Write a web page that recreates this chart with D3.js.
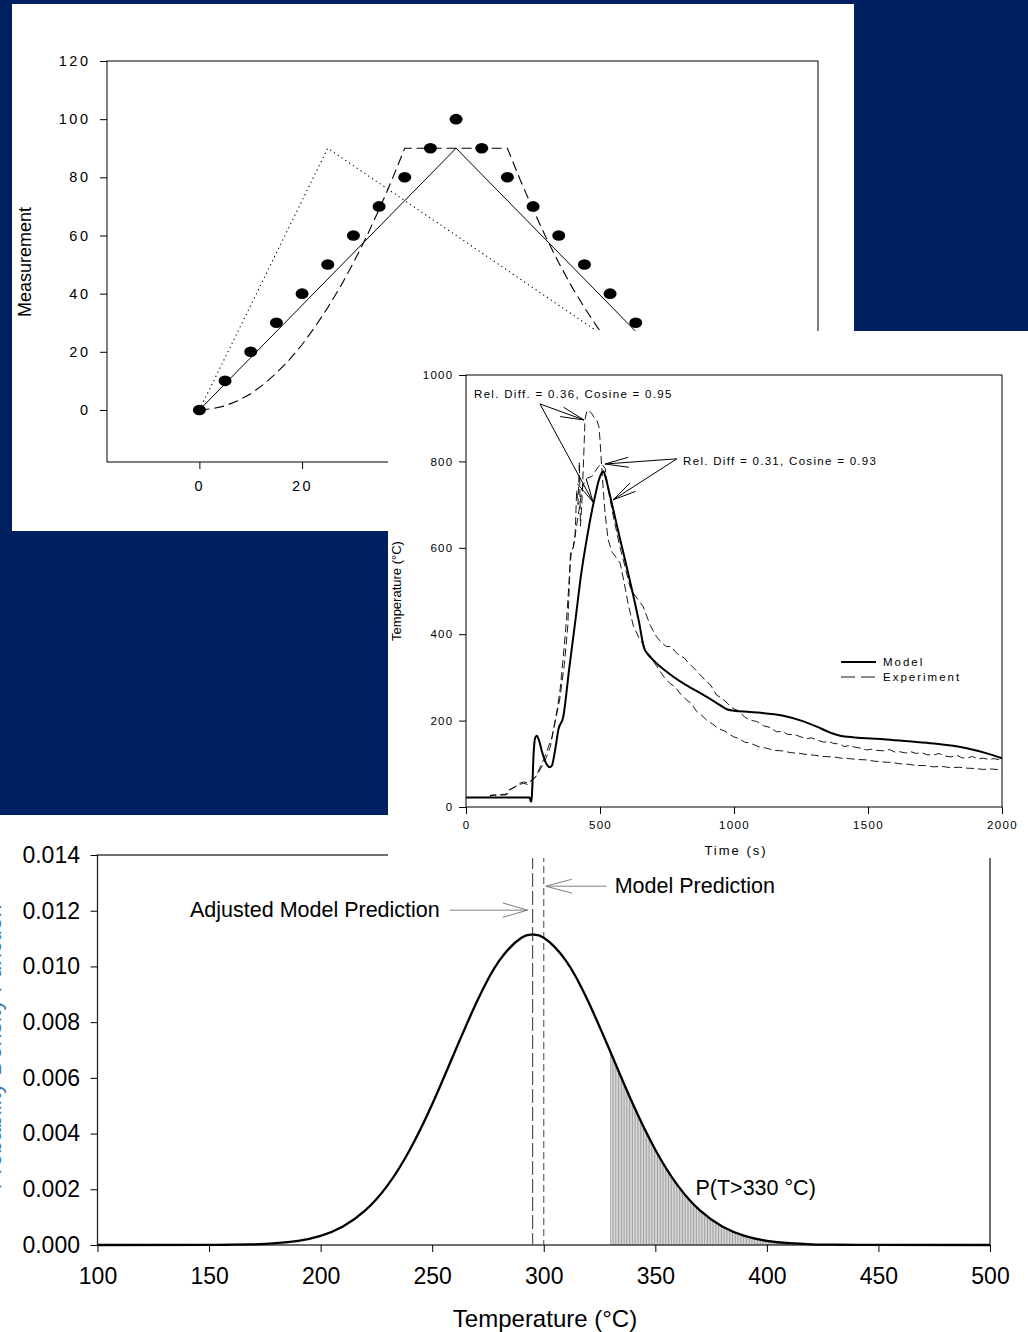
<!DOCTYPE html>
<html>
<head>
<meta charset="utf-8">
<script src="https://cdn.jsdelivr.net/npm/d3@7"></script>
<style>
  html, body { margin: 0; padding: 0; background: #002060; }
  svg { display: block; }
  text { font-family: "Liberation Sans", Arial, sans-serif; fill: #000; }
</style>
</head>
<body>
<svg id="fig" width="1028" height="1332"></svg>
<script>
// ---- panel 1: measurement vs fits ----
const measX = [0, 5, 10, 15, 20, 25, 30, 35, 40, 45, 50, 55, 60, 65, 70, 75, 80, 85];
const measY = [0, 10, 20, 30, 40, 50, 60, 70, 80, 90, 100, 90, 80, 70, 60, 50, 40, 30];
const fitSolid = [[0, 0], [50, 90], [100, 0]];
const fitDotted = [[0, 0], [25, 90], [100, 0]];
const fitDashed = [
  [0, 0], [2.5, 0.4], [5, 1.4], [7.5, 3.2], [10, 5.6], [12.5, 8.8], [15, 12.7], [17.5, 17.2],
  [20, 22.5], [22.5, 28.5], [25, 35.2], [27.5, 42.5], [30, 50.6], [32.5, 59.4], [35, 68.9],
  [37.5, 79.1], [40, 90], [60, 90], [62.5, 79.1], [65, 68.9], [67.5, 59.4], [70, 50.6],
  [72.5, 42.5], [75, 35.2], [77.5, 28.5], [80, 22.5], [82.5, 17.2], [85, 12.7]
];
const ticks1Y = [0, 20, 40, 60, 80, 100, 120];
const ticks1X = [0, 20, 40, 60, 80, 100, 120];

// ---- panel 2: temperature history ----
const modelPts = [
  [0, 22], [100, 22], [200, 22], [238, 22], [241, 14], [244, 12], [247, 40], [252, 120],
  [258, 160], [264, 165], [272, 155], [285, 125], [300, 100], [312, 92], [320, 95],
  [332, 130], [345, 180], [363, 209], [385, 320], [407, 426], [430, 540], [450, 618],
  [468, 680], [481, 718], [495, 755], [505, 772], [512, 777], [520, 765], [532, 735],
  [544, 703], [560, 660], [575, 620], [600, 555], [624, 490], [645, 430], [665, 367],
  [687, 348], [749, 313], [811, 286], [873, 264], [930, 243], [979, 225], [1000, 223],
  [1060, 220], [1184, 211], [1250, 200], [1309, 186], [1360, 172], [1396, 165],
  [1450, 161], [1557, 157], [1650, 152], [1744, 147], [1868, 136], [1950, 123], [2000, 113]
];
// experiment with the high (~920) peak
const expHigh = [
  [0, 22], [90, 22], [92, 27], [150, 28], [155, 36], [170, 42], [185, 48], [200, 55],
  [215, 58], [230, 56], [245, 60], [260, 70], [280, 90], [300, 115], [315, 140], [326, 178],
  [340, 225], [351, 271], [363, 348], [376, 440], [388, 556], [394, 595], [400, 600],
  [407, 626], [413, 734], [418, 700], [423, 799], [427, 650], [432, 700], [438, 790],
  [444, 896], [450, 915], [457, 919], [470, 910], [480, 900], [488, 896], [496, 880],
  [500, 850], [506, 790], [512, 736], [519, 680], [530, 620], [545, 590], [560, 578],
  [575, 565], [590, 520], [605, 470], [624, 420], [645, 392], [662, 375], [680, 350],
  [699, 338], [720, 318], [740, 300], [761, 286], [780, 278], [800, 262], [823, 248],
  [840, 240], [860, 222], [880, 212], [898, 201], [920, 192], [940, 182], [965, 176],
  [997, 163], [1020, 158], [1040, 150], [1060, 148], [1090, 140], [1122, 136], [1150, 131],
  [1180, 130], [1210, 126], [1246, 124], [1275, 121], [1300, 120], [1330, 117], [1371, 116],
  [1400, 113], [1430, 112], [1460, 110], [1495, 109], [1525, 106], [1560, 104], [1590, 103],
  [1619, 100], [1650, 99], [1680, 96], [1710, 96], [1744, 93], [1775, 94], [1810, 91],
  [1840, 92], [1868, 90], [1900, 89], [1930, 87], [1960, 88], [1993, 86], [2000, 86]
];
// experiment with the lower (~790) peak
const expLow = [
  [0, 22], [90, 22], [92, 27], [155, 30], [160, 40], [180, 45], [199, 52], [215, 55],
  [230, 52], [245, 63], [260, 70], [290, 110], [320, 160], [329, 186], [350, 250],
  [367, 330], [380, 420], [390, 591], [400, 600], [410, 640], [425, 700], [432, 734],
  [444, 756], [455, 762], [469, 765], [480, 775], [494, 788], [506, 794], [519, 784],
  [531, 734], [550, 672], [575, 600], [587, 572], [612, 510], [624, 495], [661, 464],
  [687, 421], [711, 394], [730, 380], [749, 371], [765, 372], [786, 356], [800, 350],
  [815, 345], [830, 333], [850, 322], [873, 306], [900, 290], [915, 280], [935, 259],
  [955, 252], [975, 240], [997, 228], [1020, 222], [1040, 208], [1060, 201], [1085, 198],
  [1110, 188], [1135, 184], [1159, 174], [1180, 175], [1200, 168], [1225, 168], [1246, 163],
  [1270, 158], [1290, 160], [1310, 155], [1335, 150], [1355, 152], [1371, 147], [1395, 146],
  [1410, 140], [1430, 142], [1455, 138], [1475, 136], [1495, 132], [1515, 134], [1535, 131],
  [1560, 130], [1580, 133], [1600, 127], [1619, 128], [1640, 125], [1660, 128], [1680, 124],
  [1700, 126], [1720, 121], [1744, 120], [1765, 124], [1785, 118], [1810, 116], [1830, 120],
  [1850, 114], [1868, 113], [1890, 117], [1910, 111], [1930, 113], [1950, 110], [1970, 112],
  [1993, 109], [2000, 107]
];
const ticks2Y = [0, 200, 400, 600, 800, 1000];
const ticks2X = [0, 500, 1000, 1500, 2000];
const notes2 = [
  { label: "Rel. Diff. = 0.36, Cosine = 0.95", at: [30, 947], from: [276, 933], tips: [[440, 896], [474, 706]] },
  { label: "Rel. Diff = 0.31, Cosine = 0.93", at: [810, 792], from: [787, 806], tips: [[519, 794], [549, 711]] }
];

// ---- panel 3: probability density ----
const pdfT = [100, 150, 160, 170, 180, 190, 200, 210, 220, 230, 240, 250, 260, 270, 280, 290, 295,
  300, 310, 320, 330, 340, 350, 360, 370, 380, 390, 400, 410, 420, 430, 440, 450, 500];
const pdfP = [0, 0.000003, 0.00001, 0.000025, 0.000064, 0.000151, 0.00033, 0.000665, 0.00124,
  0.00214, 0.00342, 0.00505, 0.00691, 0.00873, 0.0102, 0.01103, 0.01114, 0.01103, 0.0102,
  0.00873, 0.00691, 0.00505, 0.00342, 0.00214, 0.00124, 0.000665, 0.00033, 0.000151,
  0.000064, 0.000025, 0.00001, 0.000003, 0.000001, 0];
const adjustedPred = 295;
const modelPred = 300;
const threshold = 330;
const ticks3Y = [0, 0.002, 0.004, 0.006, 0.008, 0.010, 0.012, 0.014];
const ticks3X = [100, 150, 200, 250, 300, 350, 400, 450, 500];

const svg = d3.select("#fig");
svg.append("rect").attr("width", 1028).attr("height", 1332).attr("fill", "#002060");

// open arrow: line from (x0,y0) to tip (x1,y1) with a chevron head
function arrow(g, x0, y0, x1, y1, len, ang, color) {
  const a = Math.atan2(y0 - y1, x0 - x1);
  const s = g.append("g").attr("stroke", color).attr("stroke-width", 1).attr("fill", "none");
  s.append("line").attr("x1", x0).attr("y1", y0).attr("x2", x1).attr("y2", y1);
  [ang, -ang].forEach((d) => {
    s.append("line").attr("x1", x1).attr("y1", y1)
      .attr("x2", x1 + len * Math.cos(a + d)).attr("y2", y1 + len * Math.sin(a + d));
  });
}

function styleAxis(g, size, ls) {
  g.select(".domain").remove();
  g.selectAll(".tick line").attr("stroke", "#000");
  g.selectAll(".tick text").attr("font-size", size).attr("letter-spacing", ls)
    .attr("font-family", '"Liberation Sans", Arial, sans-serif').attr("fill", "#000");
}

// ================= panel 1 =================
const p1 = svg.append("g");
p1.append("rect").attr("x", 12).attr("y", 4).attr("width", 842).attr("height", 527).attr("fill", "#fff");

const x1 = d3.scaleLinear().domain([-18, 120.5]).range([107, 818]);
const y1 = d3.scaleLinear().domain([-17.9, 120]).range([462, 61]);

p1.append("rect").attr("x", 107).attr("y", 61).attr("width", 711).attr("height", 401)
  .attr("fill", "none").attr("stroke", "#000").attr("stroke-width", 1);

p1.append("g").attr("transform", "translate(107,0)")
  .call(d3.axisLeft(y1).tickValues(ticks1Y).tickSize(7).tickPadding(9.5))
  .call((g) => styleAxis(g, 14.5, 2.5));
p1.append("g").attr("transform", "translate(0,462)")
  .call(d3.axisBottom(x1).tickValues(ticks1X).tickSize(7).tickPadding(11.5))
  .call((g) => styleAxis(g, 14.5, 2.5));

p1.append("text").attr("transform", "translate(31,262) rotate(-90)")
  .attr("text-anchor", "middle").attr("font-size", 18).text("Measurement");

const line1 = d3.line().x((d) => x1(d[0])).y((d) => y1(d[1]));
p1.append("path").datum(fitDotted).attr("d", line1).attr("fill", "none")
  .attr("stroke", "#000").attr("stroke-width", 1.1).attr("stroke-dasharray", "1.2,3.4");
p1.append("path").datum(fitSolid).attr("d", line1).attr("fill", "none")
  .attr("stroke", "#000").attr("stroke-width", 1);
p1.append("path").datum(fitDashed).attr("d", line1).attr("fill", "none")
  .attr("stroke", "#000").attr("stroke-width", 1.1).attr("stroke-dasharray", "10,5");

p1.selectAll("ellipse.meas").data(measX).join("ellipse")
  .attr("class", "meas")
  .attr("cx", (d) => x1(d)).attr("cy", (d, i) => y1(measY[i]))
  .attr("rx", 6.5).attr("ry", 5.3).attr("fill", "#000");

// ================= panel 3 =================
const p3 = svg.append("g");
p3.append("rect").attr("x", 0).attr("y", 815).attr("width", 1028).attr("height", 517).attr("fill", "#fff");

const x3 = d3.scaleLinear().domain([100, 500]).range([97.5, 990]);
const y3 = d3.scaleLinear().domain([0, 0.014]).range([1245, 855]);
const pdfData = pdfT.map((t, i) => [t, pdfP[i]]);

// y title is mostly cut off at the left edge, as in the slide
p3.append("text").attr("transform", "translate(1,1047) rotate(-90)")
  .attr("text-anchor", "middle").attr("font-size", 23).style("fill", "#3f78bf")
  .text("Probability Density Function");

// hatched tail P(T > threshold)
const area3 = d3.area().curve(d3.curveNatural)
  .x((d) => x3(d[0])).y0(y3(0)).y1((d) => y3(d[1]));
p3.append("clipPath").attr("id", "tail").append("path").datum(pdfData).attr("d", area3);
p3.append("g").attr("clip-path", "url(#tail)")
  .selectAll("line").data(d3.range(threshold, 430, 0.7)).join("line")
  .attr("x1", (d) => x3(d)).attr("x2", (d) => x3(d))
  .attr("y1", y3(0.014)).attr("y2", y3(0))
  .attr("stroke", "#777").attr("stroke-width", 0.7);

p3.append("rect").attr("x", 97.5).attr("y", 855).attr("width", 892.5).attr("height", 390)
  .attr("fill", "none").attr("stroke", "#222").attr("stroke-width", 1.3);

p3.append("g").attr("transform", "translate(97.5,0)")
  .call(d3.axisLeft(y3).tickValues(ticks3Y).tickFormat(d3.format(".3f")).tickSize(7).tickPadding(10.5))
  .call((g) => styleAxis(g, 23, 0));
p3.append("g").attr("transform", "translate(0,1245)")
  .call(d3.axisBottom(x3).tickValues(ticks3X).tickSize(7).tickPadding(16))
  .call((g) => styleAxis(g, 23, 0));

p3.append("text").attr("x", 545).attr("y", 1327).attr("text-anchor", "middle")
  .attr("font-size", 24).text("Temperature (°C)");

// prediction markers
p3.append("line").attr("x1", x3(adjustedPred)).attr("x2", x3(adjustedPred))
  .attr("y1", y3(0.014)).attr("y2", y3(0))
  .attr("stroke", "#555").attr("stroke-width", 1.2).attr("stroke-dasharray", "14,4");
p3.append("line").attr("x1", x3(modelPred)).attr("x2", x3(modelPred))
  .attr("y1", y3(0.014)).attr("y2", y3(0))
  .attr("stroke", "#555").attr("stroke-width", 1.1).attr("stroke-dasharray", "7,4");

p3.append("path").datum(pdfData)
  .attr("d", d3.line().curve(d3.curveNatural).x((d) => x3(d[0])).y((d) => y3(d[1])))
  .attr("fill", "none").attr("stroke", "#000").attr("stroke-width", 2.3);

p3.append("text").attr("x", x3(253.4)).attr("y", y3(0.011775)).attr("text-anchor", "end")
  .attr("font-size", 21.5).text("Adjusted Model Prediction");
arrow(p3, x3(257.9), y3(0.01202), x3(292.8), y3(0.01202), 26, 0.28, "#808080");

p3.append("text").attr("x", x3(331.8)).attr("y", y3(0.012636))
  .attr("font-size", 21.5).text("Model Prediction");
arrow(p3, x3(328.2), y3(0.01288), x3(300.9), y3(0.01288), 27, 0.26, "#808080");

p3.append("text").attr("x", x3(368)).attr("y", y3(0.001795))
  .attr("font-size", 21.5).text("P(T>330 °C)");

// ================= panel 2 =================
const p2 = svg.append("g");
p2.append("rect").attr("x", 388).attr("y", 331).attr("width", 640).attr("height", 527).attr("fill", "#fff");

const x2 = d3.scaleLinear().domain([0, 2000]).range([466, 1002]);
const y2 = d3.scaleLinear().domain([0, 1000]).range([807, 375]);

p2.append("rect").attr("x", 466).attr("y", 375).attr("width", 536).attr("height", 432)
  .attr("fill", "none").attr("stroke", "#000").attr("stroke-width", 1);

p2.append("g").attr("transform", "translate(466,0)")
  .call(d3.axisLeft(y2).tickValues(ticks2Y).tickFormat(d3.format("d")).tickSize(7).tickPadding(5.5))
  .call((g) => styleAxis(g, 11.5, 1.3));
p2.append("g").attr("transform", "translate(0,807)")
  .call(d3.axisBottom(x2).tickValues(ticks2X).tickFormat(d3.format("d")).tickSize(7).tickPadding(6.8))
  .call((g) => styleAxis(g, 11.5, 1.3));

p2.append("text").attr("transform", "translate(401,591) rotate(-90)")
  .attr("text-anchor", "middle").attr("font-size", 13).text("Temperature (°C)");
p2.append("text").attr("x", 736).attr("y", 855).attr("text-anchor", "middle")
  .attr("font-size", 13).attr("letter-spacing", 2).text("Time (s)");

const line2 = d3.line().x((d) => x2(d[0])).y((d) => y2(d[1]));
[expHigh, expLow].forEach((s) => {
  p2.append("path").datum(s).attr("d", line2).attr("fill", "none")
    .attr("stroke", "#000").attr("stroke-width", 0.9).attr("stroke-dasharray", "8,4");
});
p2.append("path").datum(modelPts).attr("d", line2.curve(d3.curveMonotoneX)).attr("fill", "none")
  .attr("stroke", "#000").attr("stroke-width", 2);

notes2.forEach((n) => {
  p2.append("text").attr("x", x2(n.at[0])).attr("y", y2(n.at[1]))
    .attr("font-size", 11.5).attr("letter-spacing", 1.3).text(n.label);
  n.tips.forEach((t) => arrow(p2, x2(n.from[0]), y2(n.from[1]), x2(t[0]), y2(t[1]), 24, 0.21, "#000"));
});

// legend
const leg = p2.append("g").attr("transform", "translate(841,662)");
leg.append("line").attr("x1", 0).attr("x2", 35).attr("y1", 0).attr("y2", 0)
  .attr("stroke", "#000").attr("stroke-width", 2);
leg.append("line").attr("x1", 0).attr("x2", 35).attr("y1", 15).attr("y2", 15)
  .attr("stroke", "#000").attr("stroke-width", 0.9).attr("stroke-dasharray", "14,6");
leg.append("text").attr("x", 42).attr("y", 4).attr("font-size", 11.5).attr("letter-spacing", 2).text("Model");
leg.append("text").attr("x", 42).attr("y", 19).attr("font-size", 11.5).attr("letter-spacing", 2).text("Experiment");
</script>
</body>
</html>
